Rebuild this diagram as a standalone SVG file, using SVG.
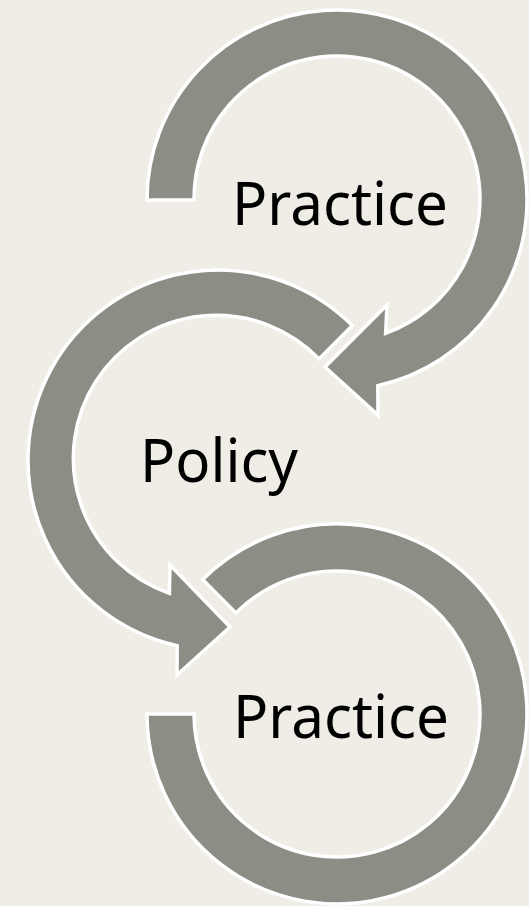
<svg xmlns="http://www.w3.org/2000/svg" width="529" height="906" viewBox="0 0 529 906">
<style>
.arrow{fill:#8C8D85;stroke:#FFFFFF;stroke-width:3.5;stroke-linejoin:miter}
.lbl{font-family:"Noto Sans","Open Sans","DejaVu Sans",sans-serif;font-size:60px;fill:#000000}
</style>
<rect width="529" height="906" fill="#EFEDE6"/>
<g id="connectors">
<path id="arrow-top" class="arrow" d="M147,200 A190,190 0 1 1 377.8,385.6 L378,415 L325,367 L387,305 L385.6,333.4 A143,143 0 1 0 194,200 Z"/>
<path id="arrow-middle" class="arrow" d="M352.3,325.6 A190,190 0 1 0 177.2,645.6 L177,675 L230,627 L170,565 L169.4,593.4 A143,143 0 1 1 319.1,358.9 Z"/>
<path id="arrow-bottom" class="arrow" d="M202.6,579.6 A190,190 0 1 1 147,714 L194,714 A143,143 0 1 0 235.9,612.9 Z"/>
</g>
<g id="node-practice-top">
<text class="lbl" x="232" y="225" textLength="216" lengthAdjust="spacingAndGlyphs">Practice</text>
</g>
<g id="node-policy">
<text class="lbl" x="140" y="482" textLength="158" lengthAdjust="spacingAndGlyphs">Policy</text>
</g>
<g id="node-practice-bottom">
<text class="lbl" x="233" y="738" textLength="216" lengthAdjust="spacingAndGlyphs">Practice</text>
</g>
</svg>
